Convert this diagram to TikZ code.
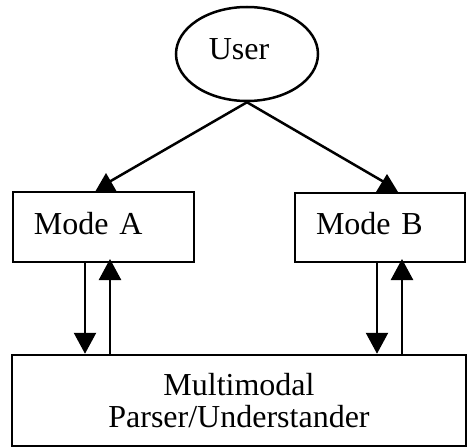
\documentclass[tikz,border=0pt]{standalone}
\usepackage{fontspec}
\setmainfont{Liberation Serif}
\usetikzlibrary{shapes.geometric,arrows.meta}
\begin{document}
\begin{tikzpicture}[x=1pt,y=-1pt,
  every node/.style={font=\fontsize{32}{32}\selectfont},
  box/.style={draw,line width=2.5pt,rectangle,inner sep=0pt},
  modebox/.style={box,align=left,inner xsep=21pt,text height=22pt,text depth=8pt},
  conn/.style={line width=2.5pt},
  tipconn/.style={conn,-{Triangle[width=22pt,length=21pt]}},
  head/.style={fill=black}]
\useasboundingbox (0,0) rectangle (467,447);
\fill[white] (0,0) rectangle (467,447);
% nodes
\node[draw,ellipse,line width=2.5pt,minimum width=142pt,minimum height=94pt] (user) at (247,54) {};
\node (usertext) at (239,49) {User};
\node[modebox,minimum width=181pt,minimum height=70pt,text width=139pt] (modeA) at (103.5,227) {Mode A};
\node[modebox,minimum width=170pt,minimum height=69pt,text width=128pt] (modeB) at (380,227.5) {Mode B};
\node[box,minimum width=454pt,minimum height=91pt,align=center] (parser) at (239,400.5) {Multimodal\\Parser/Understander};
% arrowheads of the upper connectors
\coordinate (ta) at (109,182);
\coordinate (tb) at (384,182);
\fill[head] (106,173) -- (95,192) -- (117,192) -- cycle;
\fill[head] (387,174) -- (376,192) -- (398,192) -- cycle;
\draw[conn] (user.south) -- (ta);
\draw[conn] (user.south) -- (tb);
% vertical connectors
\draw[tipconn] (modeA.south -| 85,0) -- (parser.north -| 85,0);
\draw[tipconn] (parser.north -| 110,0) -- (110,259);
\draw[tipconn] (modeB.south -| 377,0) -- (parser.north -| 377,0);
\draw[tipconn] (parser.north -| 402,0) -- (402,259);
\end{tikzpicture}
\end{document}
